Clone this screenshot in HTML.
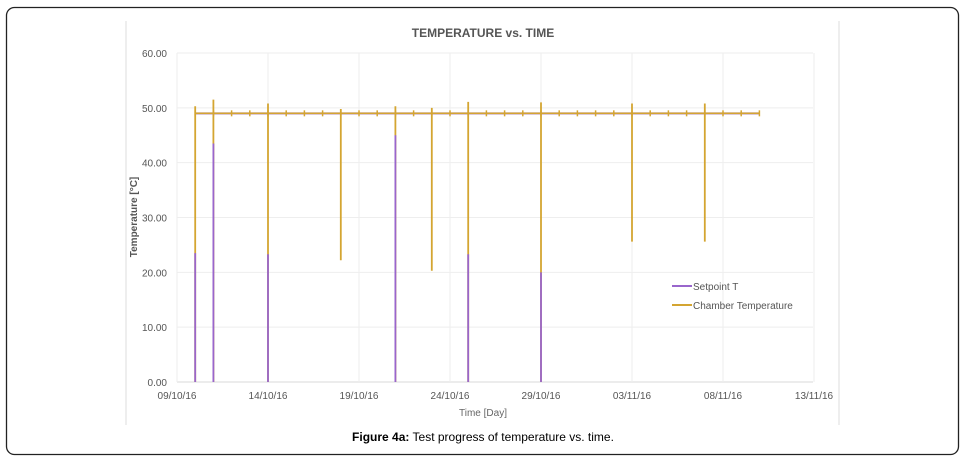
<!DOCTYPE html>
<html><head><meta charset="utf-8"><style>
body{margin:0;background:#fff;width:966px;height:460px;overflow:hidden;font-family:"Liberation Sans",sans-serif}
</style></head><body>
<svg width="966" height="460" xmlns="http://www.w3.org/2000/svg">
<rect x="6.5" y="7.5" width="952" height="447" rx="8" fill="#fff" stroke="#222" stroke-width="1.3"/>
<line x1="126" y1="21" x2="126" y2="425" stroke="#ddd"/>
<line x1="839" y1="21" x2="839" y2="425" stroke="#ddd"/>
<text x="483" y="37" text-anchor="middle" font-size="12" font-weight="bold" fill="#555">TEMPERATURE vs. TIME</text>
<g id="grid"></g><g id="yt"></g><g id="xt"></g><g id="series"></g>
<text x="483" y="416" text-anchor="middle" font-size="10" fill="#666">Time [Day]</text>
<text transform="translate(137,217) rotate(-90)" text-anchor="middle" font-size="10" font-weight="bold" fill="#555">Temperature [°C]</text>
<g>
<line x1="672" y1="286" x2="692" y2="286" stroke="#9966cc" stroke-width="2"/>
<text x="693" y="290" font-size="10" fill="#555">Setpoint T</text>
<line x1="672" y1="305" x2="692" y2="305" stroke="#d4a531" stroke-width="2"/>
<text x="693" y="309" font-size="10" fill="#555">Chamber Temperature</text>
</g>
<text x="483" y="441" text-anchor="middle" font-size="12" fill="#000"><tspan font-weight="bold">Figure 4a:</tspan> Test progress of temperature vs. time.</text>
</svg>
<script>
const yTicks=[0,10,20,30,40,50,60];
const xTickLabels=["09/10/16","14/10/16","19/10/16","24/10/16","29/10/16","03/11/16","08/11/16","13/11/16"];
const baseLevel=49;
const startDay=1, endDay=32;
const setpointDropDays=[1,2,5,12,16,20];
const setpointDropValues=[23.5,43.5,23.3,45,23.3,20];
const chamberSpikeDays=[1,2,5,9,12,14,16,20,25,29];
const chamberSpikeTops=[50.3,51.5,50.8,49.8,50.3,50,51.1,51,50.8,50.8];
const chamberSpikeBottoms=[0,0,0,22.2,0,20.3,0,0,25.6,25.6];
const X=d=>177+d*18.2, Y=v=>382-v*5.483;
const NS="http://www.w3.org/2000/svg";
function mk(p,t,a){const e=document.createElementNS(NS,t);for(const k in a)e.setAttribute(k,a[k]);p.appendChild(e);return e;}
const grid=document.getElementById('grid'),yt=document.getElementById('yt'),xt=document.getElementById('xt'),s=document.getElementById('series');
yTicks.forEach(v=>{const l=mk(grid,'line',{x1:177,x2:813,y1:Y(v),y2:Y(v),stroke:v?'#eee':'#d9d9d9'});


const t=mk(yt,'text',{x:167,y:Y(v)+4,'text-anchor':'end','font-size':10,fill:'#555'});t.textContent=v.toFixed(2);

});
xTickLabels.forEach((lab,i)=>{const x=X(i*5);const l=mk(grid,'line',{x1:x,x2:x,y1:Y(60),y2:Y(0),stroke:'#eee'});


const t=mk(xt,'text',{x:x,y:399,'text-anchor':'middle','font-size':10,fill:'#555'});t.textContent=lab;

});
// base lines
const sp=mk(s,'line',{x1:X(startDay),x2:X(endDay),y1:Y(baseLevel),y2:Y(baseLevel),stroke:'#9966cc','stroke-width':2});


const ch=mk(s,'line',{x1:X(startDay),x2:X(endDay),y1:Y(baseLevel),y2:Y(baseLevel),stroke:'#d4a531','stroke-width':1.6});


for(let d=startDay;d<=endDay;d++){const m=mk(s,'line',{x1:X(d),x2:X(d),y1:Y(baseLevel)-3,y2:Y(baseLevel)+3,stroke:'#d4a531','stroke-width':1.5});

}
chamberSpikeDays.forEach((d,i)=>{const l=mk(s,'line',{x1:X(d),x2:X(d),y1:Y(chamberSpikeTops[i]),y2:Y(chamberSpikeBottoms[i]),stroke:'#d4a531','stroke-width':1.8});

});
setpointDropDays.forEach((d,i)=>{const l=mk(s,'line',{x1:X(d),x2:X(d),y1:Y(setpointDropValues[i]),y2:Y(0),stroke:'#9966cc','stroke-width':1.8});

});
</script>
</body></html>
